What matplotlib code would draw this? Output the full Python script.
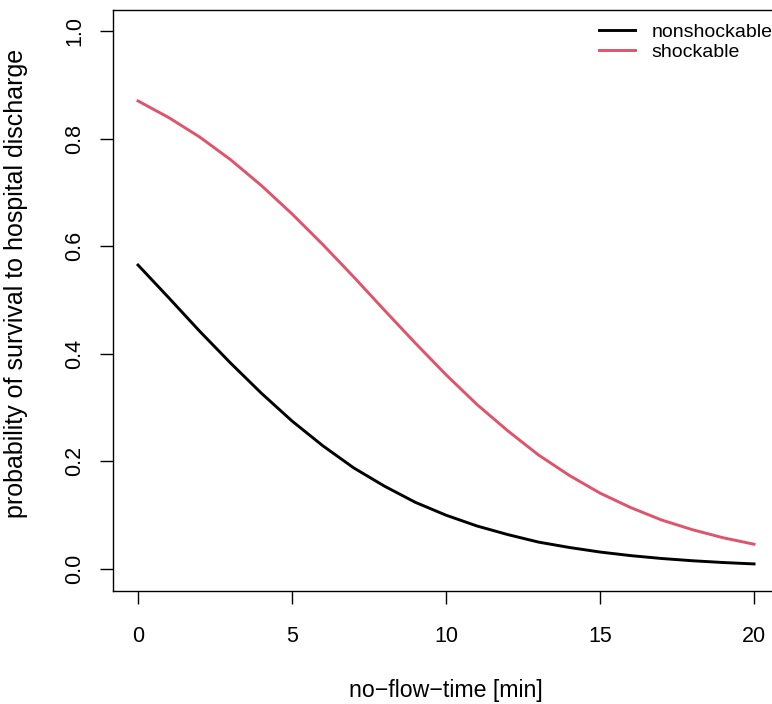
import matplotlib
matplotlib.use("Agg")
import matplotlib.pyplot as plt

plt.rcParams['font.family'] = ['Liberation Sans', 'DejaVu Sans']

# no-flow time in minutes
minutes = list(range(0, 21))

# estimated probability of survival to hospital discharge
nonshockable = [0.565, 0.504, 0.442, 0.383, 0.327, 0.275, 0.229, 0.188, 0.154, 0.124,
                0.100, 0.080, 0.064, 0.050, 0.040, 0.0315, 0.0248, 0.0195, 0.0153, 0.0120, 0.0094]
shockable = [0.870, 0.839, 0.803, 0.761, 0.713, 0.660, 0.603, 0.543, 0.481, 0.420,
             0.361, 0.306, 0.257, 0.212, 0.174, 0.141, 0.114, 0.091, 0.073, 0.058, 0.046]

series_names = ["nonshockable", "shockable"]
x_ticks = [0, 5, 10, 15, 20]
y_ticks = [0.0, 0.2, 0.4, 0.6, 0.8, 1.0]

W, H = 772, 704
fig = plt.figure(figsize=(W / 100, H / 100), dpi=100)
# plot region runs a bit past the right edge, like the R device crop
ax = fig.add_axes([113.4 / W, 1 - 590.5 / H, 665.3 / W, 581 / H])

ax.plot(minutes, nonshockable, color="black", lw=2.1, label=series_names[0])
ax.plot(minutes, shockable, color="#DF536B", lw=2.1, label=series_names[1])

ax.set_xlim(-0.8, 20.8)
ax.set_ylim(-0.04, 1.04)
ax.set_xticks(x_ticks)
ax.set_xticklabels([str(t) for t in x_ticks])
ax.set_yticks(y_ticks)
ax.set_yticklabels(["%.1f" % t for t in y_ticks], rotation=90, va="center")
ax.tick_params(direction="out", length=9.4, width=1, labelsize=15.5)
ax.tick_params(axis="x", pad=16.5)
ax.tick_params(axis="y", pad=11)
for s in ax.spines.values():
    s.set_linewidth(1)

# axis titles placed like R's mtext at line 3
fig.text(445.5 / W, 1 - 691 / H, "no\u2212flow\u2212time [min]", fontsize=16.7,
         ha="center", va="center")
fig.text(16 / W, 1 - 283 / H, "probability of survival to hospital discharge",
         fontsize=18, rotation=90, ha="center", va="center")

ax.legend(loc="upper left", bbox_to_anchor=(599 / W, 1 - 23 / H), bbox_transform=fig.transFigure,
          frameon=False, fontsize=14, handlelength=1.85, handletextpad=0.87,
          labelspacing=0.14, borderpad=0, borderaxespad=0)

fig.savefig("out.png", dpi=100)
